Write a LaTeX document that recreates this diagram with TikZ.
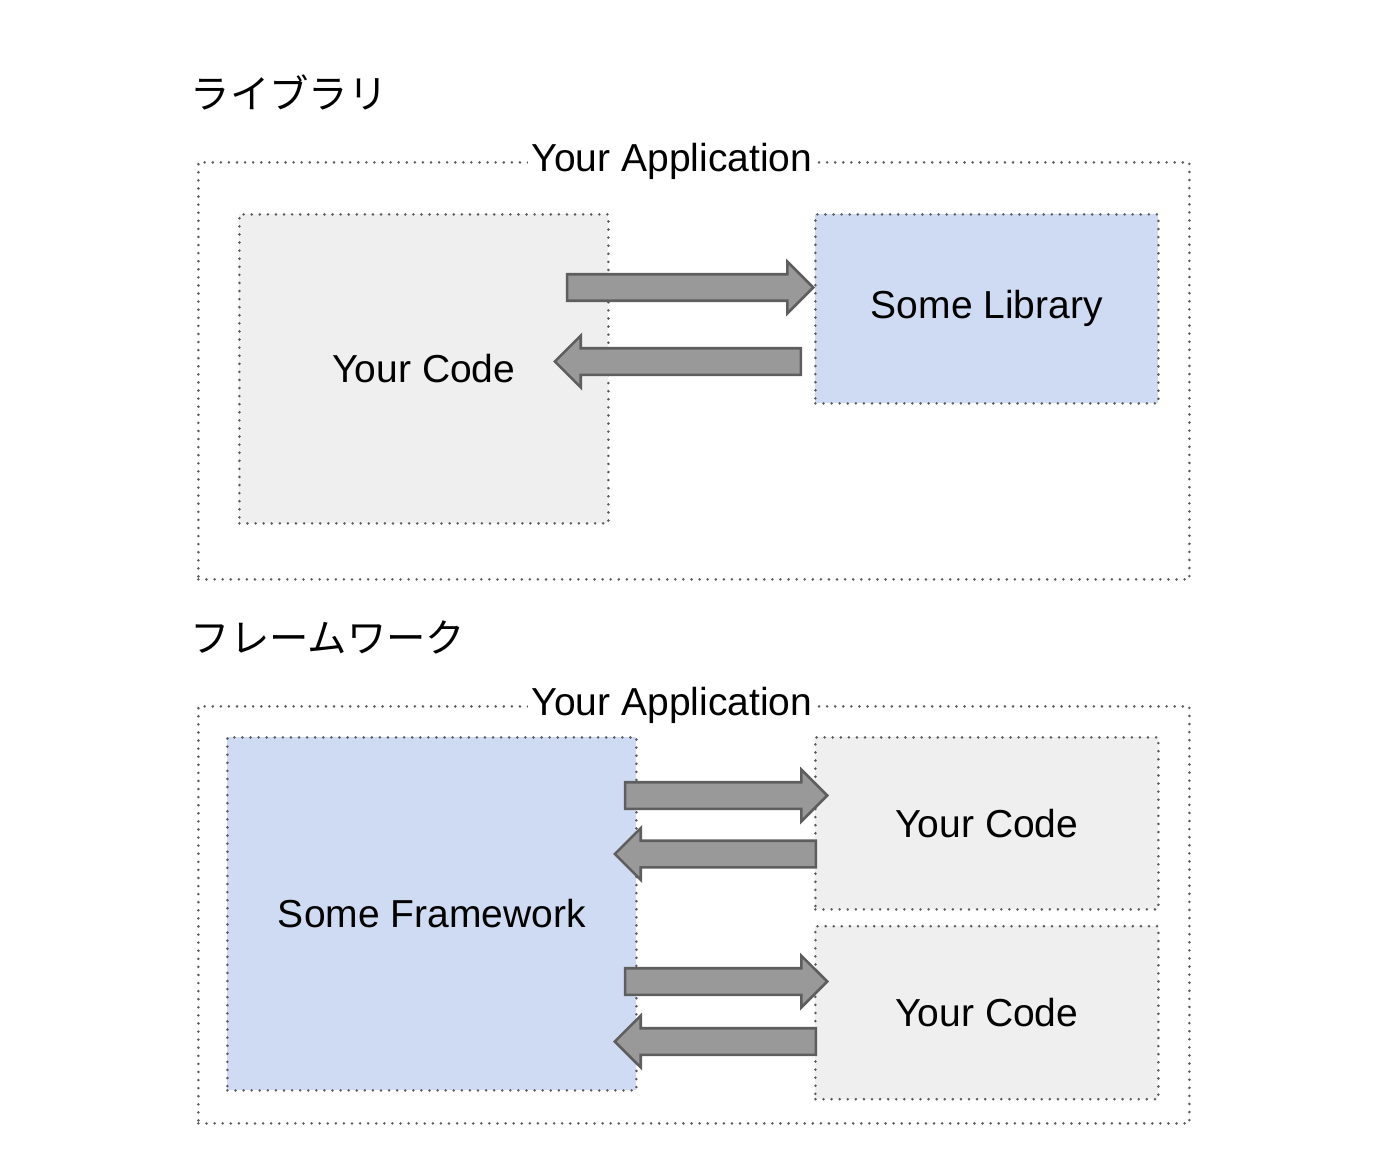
\documentclass[tikz,border=0pt]{standalone}
\usepackage{fontspec}
\setmainfont{Liberation Sans}
\newfontfamily\jpfont{Noto Sans CJK JP}
\usetikzlibrary{positioning,shapes.arrows}
\definecolor{codegray}{HTML}{EFEFEF}
\definecolor{libblue}{HTML}{CFDBF3}
\definecolor{dotgray}{HTML}{5A5A5A}
\definecolor{arrowfill}{HTML}{999999}
\definecolor{arrowline}{HTML}{5E5E5E}
\tikzset{
  dotline/.style={draw=dotgray, line width=0.8pt, line cap=round, dash pattern=on 0pt off 2.3pt},
  outerbox/.style={dotline, minimum width=9.91cm, minimum height=4.17cm, inner sep=0pt},
  codebox/.style={dotline, fill=codegray, inner sep=0pt, font=\fontsize{11.1}{13}\selectfont},
  libbox/.style={codebox, fill=libblue},
  applabel/.style={fill=white, inner sep=1pt, font=\fontsize{11.1}{13}\selectfont},
  titlelabel/.style={anchor=west, inner sep=0pt, font=\jpfont\fontsize{11.2}{13}\selectfont},
  blockarrow/.style={single arrow, draw=arrowline, fill=arrowfill, line width=0.75pt, inner xsep=0pt, inner ysep=0.12cm, single arrow head extend=0.125cm, minimum height=#1, anchor=tip},
  blockarrow/.default=2.46cm
}
\begin{document}
\begin{tikzpicture}[y=-1cm]
  \path[use as bounding box] (0,0) rectangle (14,11.52);
  % library
  \node[titlelabel] (libtitle) at (1.90,0.92) {ライブラリ};
  \node[outerbox, anchor=north west] (libapp) at (1.97,1.61) {};
  \node[applabel] (libapplabel) at (6.72,1.61) {Your Application};
  \node[codebox, anchor=north west, minimum width=3.69cm, minimum height=3.09cm] (libcode) at (2.38,2.13) {Your Code};
  \node[libbox, anchor=north west, minimum width=3.43cm, minimum height=1.89cm] (lib) at (8.14,2.13) {Some Library};
  \node[blockarrow] (libcall) at (8.15,2.875) {};
  \node[blockarrow, shape border rotate=180] (libret) at (5.53,3.615) {};
  % framework
  \node[titlelabel] (fwtitle) at (1.90,6.37) {フレームワーク};
  \node[outerbox, anchor=north west] (fwapp) at (1.97,7.05) {};
  \node[applabel] (fwapplabel) at (6.72,7.05) {Your Application};
  \node[libbox, anchor=north west, minimum width=4.09cm, minimum height=3.53cm] (fw) at (2.26,7.36) {Some Framework};
  \node[codebox, anchor=north west, minimum width=3.43cm, minimum height=1.72cm] (fwcodea) at (8.14,7.36) {Your Code};
  \node[codebox, below=0.14cm of fwcodea, minimum width=3.43cm, minimum height=1.73cm] (fwcodeb) {Your Code};
  \node[blockarrow=2.02cm] (fwcalla) at (8.29,7.955) {};
  \node[blockarrow=2.01cm, shape border rotate=180] (fwreta) at (6.13,8.54) {};
  \node[blockarrow=2.02cm] (fwcallb) at (8.29,9.815) {};
  \node[blockarrow=2.01cm, shape border rotate=180] (fwretb) at (6.13,10.415) {};
\end{tikzpicture}
\end{document}
